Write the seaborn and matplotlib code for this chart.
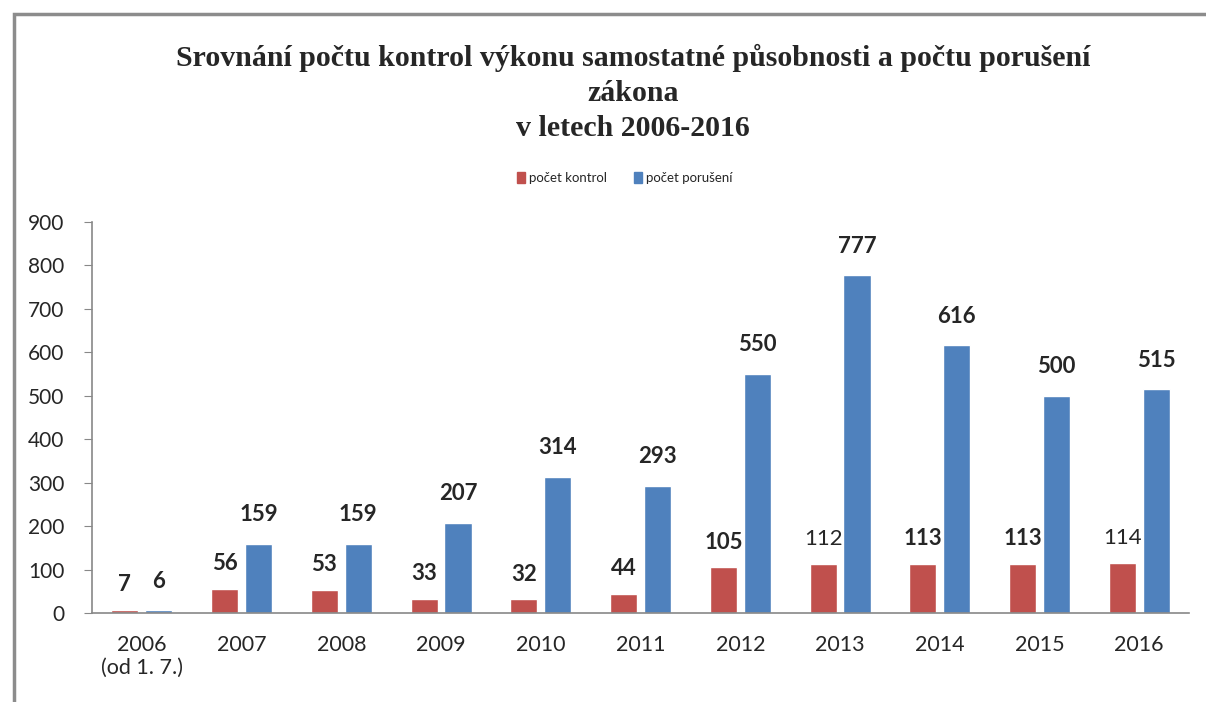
import pandas as pd
import matplotlib.pyplot as plt
import matplotlib.patches as mpatches
import seaborn as sns

# data
years = ["2006\n(od 1. 7.)", "2007", "2008", "2009", "2010", "2011",
         "2012", "2013", "2014", "2015", "2016"]
kontrol = [7, 56, 53, 33, 32, 44, 105, 112, 113, 113, 114]
poruseni = [6, 159, 159, 207, 314, 293, 550, 777, 616, 500, 515]
series = ["počet kontrol", "počet porušení"]

df = pd.DataFrame({
    "rok": years * 2,
    "hodnota": kontrol + poruseni,
    "serie": [series[0]] * len(years) + [series[1]] * len(years),
})

sns.set_style("white")
plt.rcParams["font.family"] = ["Lato", "DejaVu Sans"]

fig = plt.figure(figsize=(12.06, 7.02), dpi=100)
ax = fig.add_axes([0.0763, 0.1268, 0.9097, 0.557])

palette = {series[0]: "#C0504D", series[1]: "#4F81BD"}
sns.barplot(data=df, x="rok", y="hodnota", hue="serie", palette=palette,
            width=0.68, gap=0.2, saturation=1, ax=ax, legend=False)

ax.set_ylim(0, 900)
ax.set_xlim(-0.5, len(years) - 0.5)
ax.set_yticks(range(0, 901, 100))
ax.set_xlabel("")
ax.set_ylabel("")
for s in ["top", "right"]:
    ax.spines[s].set_visible(False)
for s in ["left", "bottom"]:
    ax.spines[s].set_color("#888888")
    ax.spines[s].set_linewidth(1.2)
ax.tick_params(axis="y", left=True, length=6, color="#888888", labelsize=15, pad=14)
ax.tick_params(axis="x", bottom=False, labelsize=15.5, pad=12)

# value labels
for cont, vals, dy in zip(ax.containers, [kontrol, poruseni], [18, 21]):
    for bar, v in zip(cont, vals):
        weight = "normal" if v in (112, 114) else "bold"
        ax.annotate(str(v), (bar.get_x() + bar.get_width() / 2, bar.get_height()),
                    xytext=(0, dy), textcoords="offset points",
                    ha="center", va="center", fontsize=16, fontweight=weight)

fig.text(0.525, 0.868,
         "Srovnání počtu kontrol výkonu samostatné působnosti a počtu porušení\nzákona\nv letech 2006-2016",
         ha="center", va="center", fontsize=21.5, fontweight="bold",
         family="Liberation Serif", linespacing=1.38)

handles = [mpatches.Patch(color=palette[s], label=s) for s in series]
fig.legend(handles=handles, loc="center", bbox_to_anchor=(0.518, 0.747), ncol=2,
           frameon=False, fontsize=9.5, handlelength=0.6, handleheight=0.9,
           handletextpad=0.3, columnspacing=2.0)

# outer chart frame
fig.patches.append(mpatches.Rectangle((0.0115, -0.05), 1.1, 1.03,
                                      transform=fig.transFigure, fill=False,
                                      edgecolor="#8c8c8c", linewidth=2.5))

fig.savefig("out.png", dpi=100)
